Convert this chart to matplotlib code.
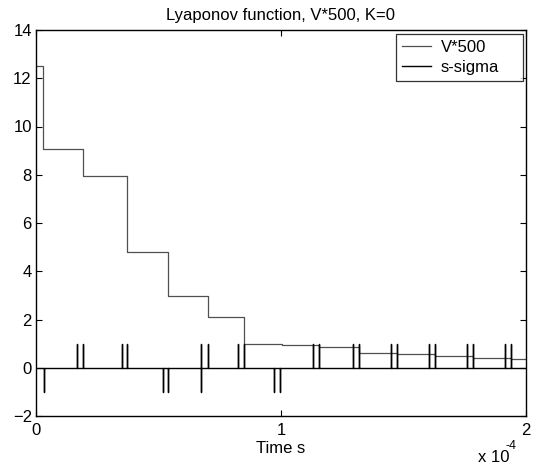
import matplotlib
matplotlib.use("Agg")
import matplotlib.pyplot as plt

plt.rcParams["font.family"] = ["Liberation Sans", "DejaVu Sans"]

# time in units of 1e-4 s
v_switch_times = [0.0, 0.03, 0.193, 0.371, 0.54, 0.70, 0.849, 1.003, 1.156,
                  1.317, 1.472, 1.629, 1.782, 1.938, 2.0]
v_levels = [12.52, 9.07, 7.94, 4.79, 2.99, 2.12, 1.0, 0.96, 0.85,
            0.60, 0.56, 0.49, 0.39, 0.35]

spike_times = [0.034, 0.169, 0.193, 0.35, 0.371, 0.518, 0.540, 0.673, 0.673,
               0.701, 0.823, 0.850, 0.973, 0.996, 1.132, 1.156, 1.293, 1.317,
               1.448, 1.472, 1.604, 1.629, 1.758, 1.782, 1.914, 1.938]
spike_values = [-1, 1, 1, 1, 1, -1, -1, -1, 1,
                1, 1, 1, -1, -1, 1, 1, 1, 1,
                1, 1, 1, 1, 1, 1, 1, 1]

x_ticks = [0, 1, 2]
y_ticks = list(range(-2, 15, 2))


def step_points(times, levels):
    xs, ys = [], []
    for i, level in enumerate(levels):
        xs += [times[i], times[i + 1]]
        ys += [level, level]
    return xs, ys


def spike_points(times, values, t_end):
    xs, ys = [0.0], [0.0]
    for t, v in zip(times, values):
        xs += [t, t, t]
        ys += [0.0, v, 0.0]
    xs.append(t_end)
    ys.append(0.0)
    return xs, ys


fig = plt.figure(figsize=(5.39, 4.68), dpi=100)
ax = fig.add_axes([36 / 539, 52 / 468, 490 / 539, 386 / 468])

vx, vy = step_points(v_switch_times, v_levels)
sx, sy = spike_points(spike_times, spike_values, v_switch_times[-1])
ax.plot(vx, vy, color="#505050", linewidth=0.9, label="V*500")
ax.plot(sx, sy, color="black", linewidth=1.0, label="s-sigma")

ax.set_xlim(0, 2)
ax.set_ylim(-2, 14)
ax.set_xticks(x_ticks)
ax.set_xticklabels([str(t) for t in x_ticks])
ax.set_yticks(y_ticks)
ax.tick_params(direction="in", top=True, right=True, labelsize=12, length=4, width=0.8)
ax.tick_params(axis="y", pad=3)
ax.tick_params(axis="x", pad=5)
for spine in ax.spines.values():
    spine.set_linewidth(1.0)

ax.set_title("Lyaponov function, V*500, K=0", fontsize=12, pad=7)
ax.set_xlabel("Time s", fontsize=12, labelpad=2)
fig.text(478 / 539, 1 - 457 / 468, "x 10", fontsize=12, ha="left", va="center")
fig.text(506 / 539, 1 - 446 / 468, "-4", fontsize=9, ha="left", va="center")

leg = ax.legend(loc="upper left", bbox_to_anchor=(360 / 490, 0.3, 127 / 490, (382 - 0.3 * 386) / 386),
                mode="expand", borderaxespad=0, fontsize=12, frameon=True,
                fancybox=False, handlelength=1.75, borderpad=0.35,
                labelspacing=0.3, handletextpad=0.6)
leg.get_frame().set_edgecolor("black")
leg.get_frame().set_linewidth(0.9)

fig.savefig("out.png", dpi=100)
